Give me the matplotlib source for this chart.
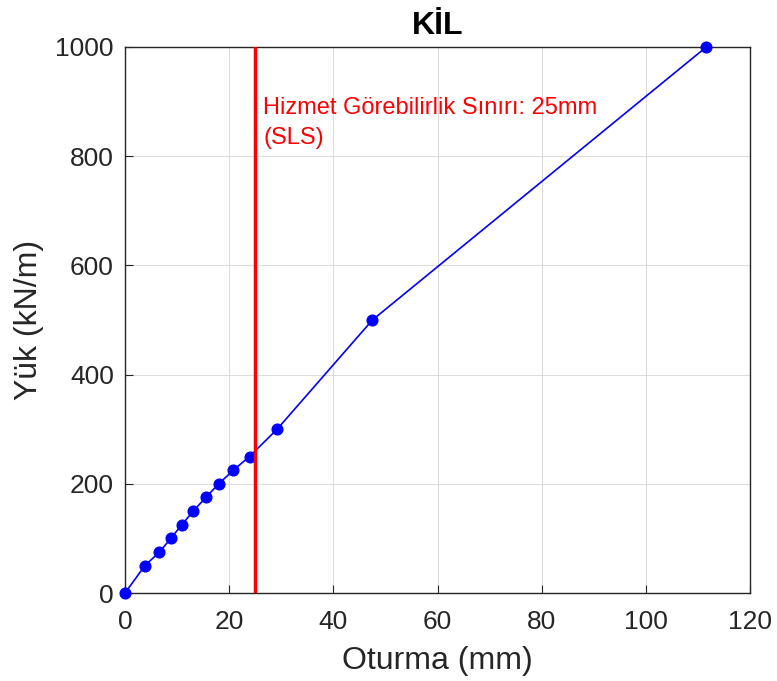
import matplotlib
matplotlib.use("Agg")
import matplotlib.pyplot as plt

# settlement (mm) vs. load (kN/m) for the clay layer
oturma = [0, 3.8, 6.6, 8.8, 10.9, 13.1, 15.5, 18.0, 20.8, 23.9, 29.2, 47.5, 111.6]
yuk = [0, 50, 75, 100, 125, 150, 175, 200, 225, 250, 300, 500, 1000]
sls_limit = 25
x_ticks = [0, 20, 40, 60, 80, 100, 120]
y_ticks = [0, 200, 400, 600, 800, 1000]

plt.rcParams['font.family'] = ['Liberation Sans', 'DejaVu Sans']

fig = plt.figure(figsize=(7.77, 6.81), dpi=100)
ax = fig.add_axes([0.1609, 0.1292, 0.8044, 0.8018])

ax.plot(oturma, yuk, color='blue', linewidth=1.2, marker='o', markersize=7.7,
        markerfacecolor='blue', markeredgecolor='blue', zorder=3, clip_on=False)
ax.axvline(sls_limit, color='red', linewidth=2.5, zorder=4)
ax.text(sls_limit + 1.5, 908, 'Hizmet Görebilirlik Sınırı: 25mm\n(SLS)',
        color='red', fontsize=17, va='top', ha='left', linespacing=1.45)

ax.set_xlim(0, 120)
ax.set_ylim(0, 1000)
ax.set_xticks(x_ticks)
ax.set_yticks(y_ticks)
ax.grid(True, color='#dcdcdc', linewidth=0.8)
ax.set_axisbelow(True)
ax.tick_params(direction='in', length=6, labelsize=19, colors='#262626', pad=8)
ax.tick_params(axis='x', pad=12)
for s in ax.spines.values():
    s.set_color('#262626')
    s.set_linewidth(1.0)

ax.set_xlabel('Oturma (mm)', fontsize=23, color='#262626', labelpad=9)
ax.set_ylabel('Yük (kN/m)', fontsize=23, color='#262626', labelpad=8)
ax.set_title('KİL', fontsize=23, fontweight='bold', pad=9)

fig.savefig('out.png', dpi=100)
